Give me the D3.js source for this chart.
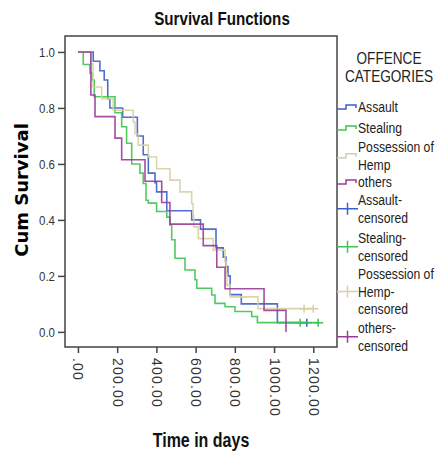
<!DOCTYPE html>
<html>
<head>
<meta charset="utf-8">
<script src="https://cdn.jsdelivr.net/npm/d3@7"></script>
<style>
  body { margin: 0; background: #fff; }
  svg text { font-family: "Liberation Sans", Arial, sans-serif; }
</style>
</head>
<body>
<svg id="chart"></svg>
<script>
// values
var categories = ["Assault", "Stealing", "Possession of Hemp", "others"];
var colors = ["#3d5ec8", "#3fc453", "#d8d0a0", "#993a99"];

var assaultTimes = [78, 112, 134, 152, 163, 228, 303, 333, 359, 393, 401, 453, 580, 625, 704, 741, 755, 765, 776, 833, 1017];
var assaultSurv = [0.967, 0.933, 0.9, 0.833, 0.8, 0.767, 0.7, 0.633, 0.567, 0.533, 0.5, 0.433, 0.4, 0.367, 0.3, 0.267, 0.233, 0.2, 0.133, 0.1, 0.033];
var assaultCensored = [1167];

var stealingTimes = [27, 61, 73, 83, 189, 223, 248, 274, 316, 333, 347, 359, 401, 453, 469, 478, 495, 546, 597, 606, 682, 699, 750, 801, 886, 915];
var stealingSurv = [0.955, 0.924, 0.9, 0.84, 0.783, 0.733, 0.674, 0.6, 0.567, 0.53, 0.47, 0.46, 0.43, 0.41, 0.382, 0.329, 0.263, 0.221, 0.186, 0.156, 0.132, 0.102, 0.09, 0.073, 0.055, 0.033];
var stealingCensored = [1133, 1225];

var hempTimes = [66, 77, 121, 180, 282, 291, 308, 359, 401, 469, 520, 580, 587, 590, 614, 690, 750, 756, 760, 776, 918];
var hempSurv = [0.958, 0.875, 0.833, 0.792, 0.75, 0.708, 0.667, 0.625, 0.583, 0.542, 0.5, 0.458, 0.417, 0.375, 0.333, 0.292, 0.25, 0.208, 0.167, 0.125, 0.083];
var hempCensored = [1153, 1200];

var othersTimes = [66, 87, 189, 223, 342, 427, 469, 639, 708, 750, 949, 1061];
var othersSurv = [0.846, 0.769, 0.692, 0.615, 0.538, 0.462, 0.385, 0.308, 0.231, 0.154, 0.077, 0];
var othersCensored = [];

var xTicks = [0, 200, 400, 600, 800, 1000, 1200];
var yTicks = [0, 0.2, 0.4, 0.6, 0.8, 1.0];

var legendItems = [
  { lines: ["Assault"], kind: "step", c: 0, y: 107 },
  { lines: ["Stealing"], kind: "step", c: 1, y: 128 },
  { lines: ["Possession of", "Hemp"], kind: "step", c: 2, y: 147 },
  { lines: ["others"], kind: "step", c: 3, y: 182 },
  { lines: ["Assault-", "censored"], kind: "cross", c: 0, y: 200 },
  { lines: ["Stealing-", "censored"], kind: "cross", c: 1, y: 238 },
  { lines: ["Possession of", "Hemp-", "censored"], kind: "cross", c: 2, y: 274 },
  { lines: ["others-", "censored"], kind: "cross", c: 3, y: 328 }
];

var series = [
  { times: assaultTimes, surv: assaultSurv, cens: assaultCensored },
  { times: stealingTimes, surv: stealingSurv, cens: stealingCensored },
  { times: hempTimes, surv: hempSurv, cens: hempCensored },
  { times: othersTimes, surv: othersSurv, cens: othersCensored }
];

var W = 436, H = 456;
var box = { left: 65, right: 337, top: 36, bottom: 347 };

var svg = d3.select("#chart").attr("width", W).attr("height", H);

var x = d3.scaleLinear().domain([-66, 1321]).range([box.left, box.right]);
var y = d3.scaleLinear().domain([-0.054, 1.057]).range([box.bottom, box.top]);

// condensed text (no narrow font installed, so squeeze horizontally)
function narrow(parent, px, py, str, size, anchor, bold, sx) {
  return parent.append("text")
    .attr("transform", `translate(${px},${py}) scale(${sx || 0.82},1)`)
    .attr("text-anchor", anchor || "start")
    .style("font-size", size + "px")
    .style("font-weight", bold ? "bold" : "normal")
    .attr("fill", "#111")
    .text(str);
}

// title
narrow(svg, 222, 25, "Survival Functions", 18.5, "middle", true);

// frame
svg.append("rect")
  .attr("x", box.left).attr("y", box.top)
  .attr("width", box.right - box.left).attr("height", box.bottom - box.top)
  .attr("fill", "none").attr("stroke", "#444").attr("stroke-width", 1.5);

// y axis
var yAxis = d3.axisLeft(y).tickValues(yTicks).tickSize(7).tickFormat(d3.format(".1f"));
var gy = svg.append("g").attr("transform", `translate(${box.left},0)`).call(yAxis);
gy.select(".domain").remove();
gy.selectAll("line").attr("stroke", "#444").attr("stroke-width", 1.5);
gy.selectAll("text")
  .attr("x", 0).attr("dy", "0.36em")
  .attr("transform", "translate(-10,0) scale(0.85,1)")
  .attr("fill", "#333")
  .style("font-size", "13.5px").style("font-family", "Liberation Sans, Arial, sans-serif");

// x axis
var fmt = function(d){ return d === 0 ? ".00" : d3.format(".2f")(d); };
var xAxis = d3.axisBottom(x).tickValues(xTicks).tickSize(6).tickFormat(fmt);
var gx = svg.append("g").attr("transform", `translate(0,${box.bottom})`).call(xAxis);
gx.select(".domain").remove();
gx.selectAll("line").attr("stroke", "#444").attr("stroke-width", 1.5);
gx.selectAll("text")
  .attr("transform", "rotate(90)")
  .attr("x", 11).attr("y", 0).attr("dy", "0.36em")
  .attr("text-anchor", "start").attr("fill", "#333")
  .style("letter-spacing", "1.2px")
  .style("font-size", "14px").style("font-family", "Liberation Sans, Arial, sans-serif");

// axis titles
svg.append("text")
  .attr("transform", "translate(28,190) rotate(-90)")
  .attr("text-anchor", "middle")
  .style("font-family", "DejaVu Sans").style("font-weight", "bold").style("font-size", "18px")
  .text("Cum Survival");

narrow(svg, 201, 447, "Time in days", 19.5, "middle", true);

// survival curves
var line = d3.line().x(function(d){ return x(d[0]); }).y(function(d){ return y(d[1]); }).curve(d3.curveStepAfter);
var plot = svg.append("g");

series.forEach(function(s, i){
  var pts = [[0, 1]];
  for (var k = 0; k < s.times.length; k++) pts.push([s.times[k], s.surv[k]]);
  var last = s.surv[s.surv.length - 1];
  if (s.cens.length) pts.push([d3.max(s.cens), last]);
  plot.append("path")
    .attr("d", line(pts))
    .attr("fill", "none")
    .attr("stroke", colors[i])
    .attr("stroke-width", 1.6)
    .attr("stroke-opacity", 0.9);
  s.cens.forEach(function(t){
    var cx = x(t), cy = y(last);
    plot.append("path")
      .attr("d", `M${cx-5},${cy}H${cx+5}M${cx},${cy-4}V${cy+4}`)
      .attr("stroke", colors[i]).attr("stroke-width", 1.5).attr("fill", "none");
  });
});

// legend
var lg = svg.append("g");
narrow(lg, 389, 64, "OFFENCE", 16, "middle", false, 0.85).attr("fill", "#222");
narrow(lg, 389, 82, "CATEGORIES", 16, "middle", false, 0.85).attr("fill", "#222");

legendItems.forEach(function(it){
  var n = it.lines.length;
  var lh = 17.5;
  it.lines.forEach(function(t, j){
    narrow(lg, 358, it.y + j * lh + 5, t, 14, "start", false, 0.87).attr("fill", "#222");
  });
  var sy = it.y + (n - 1) * lh / 2;
  if (it.kind === "step") {
    lg.append("path")
      .attr("d", `M337,${sy+2}H346V${sy-2}H356V${sy+1}`)
      .attr("fill", "none").attr("stroke", colors[it.c]).attr("stroke-width", 1.5);
  } else {
    lg.append("path")
      .attr("d", `M337,${sy}H358M347.5,${sy-6}V${sy+6}`)
      .attr("fill", "none").attr("stroke", colors[it.c]).attr("stroke-width", 1.5);
  }
});
</script>
</body>
</html>
